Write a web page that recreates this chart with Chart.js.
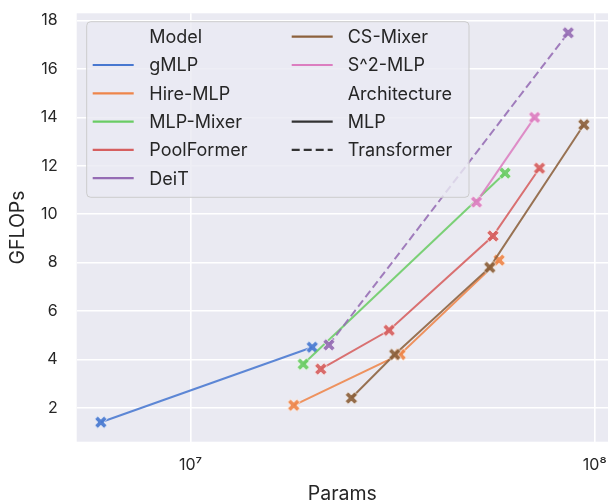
<!DOCTYPE html>
<html>
<head>
<meta charset="utf-8">
<script src="https://cdn.jsdelivr.net/npm/chart.js@4.4.0/dist/chart.umd.min.js"></script>
<style>
  html, body { margin: 0; padding: 0; background: #fff; }
  #wrap { width: 616px; height: 504px; }
</style>
</head>
<body>
<div id="wrap"><canvas id="chart" width="616" height="504"></canvas></div>
<script>
// Values: params (x, log) vs GFLOPs (y)
const models = ['gMLP', 'Hire-MLP', 'MLP-Mixer', 'PoolFormer', 'DeiT', 'CS-Mixer', 'S^2-MLP'];
const modelColors = ['#4878d0', '#ee854a', '#6acc64', '#d65f5f', '#956cb4', '#8c613c', '#dc7ec0'];
const modelArch = ['MLP', 'MLP', 'MLP', 'MLP', 'Transformer', 'MLP', 'MLP'];
const archNames = ['MLP', 'Transformer'];

const gmlpParams = [6e6, 20e6];
const gmlpFlops = [1.4, 4.5];
const hireParams = [18e6, 33e6, 58e6];
const hireFlops = [2.1, 4.2, 8.1];
const mixerParams = [19e6, 60e6];
const mixerFlops = [3.8, 11.7];
const poolParams = [21e6, 31e6, 56e6, 73e6];
const poolFlops = [3.6, 5.2, 9.1, 11.9];
const deitParams = [22e6, 86e6];
const deitFlops = [4.6, 17.5];
const csParams = [25e6, 32e6, 55e6, 94e6];
const csFlops = [2.4, 4.2, 7.8, 13.7];
const s2Params = [51e6, 71e6];
const s2Flops = [10.5, 14.0];

const xTickValues = [1e7, 1e8];
const xTickLabels = ['10\u2077', '10\u2078'];
const yTickValues = [2, 4, 6, 8, 10, 12, 14, 16, 18];

const seriesParams = [gmlpParams, hireParams, mixerParams, poolParams, deitParams, csParams, s2Params];
const seriesFlops = [gmlpFlops, hireFlops, mixerFlops, poolFlops, deitFlops, csFlops, s2Flops];

const FONT = 'Inter, "DejaVu Sans", sans-serif';
const TEXT = '#262626';

// matplotlib-like 5% margins (log for x)
const allX = seriesParams.flat(), allY = seriesFlops.flat();
const lx0 = Math.log10(Math.min(...allX)), lx1 = Math.log10(Math.max(...allX));
const xMin = Math.pow(10, lx0 - 0.05 * (lx1 - lx0));
const xMax = Math.pow(10, lx1 + 0.05 * (lx1 - lx0));
const y0 = Math.min(...allY), y1 = Math.max(...allY);
const yMin = y0 - 0.05 * (y1 - y0);
const yMax = y1 + 0.05 * (y1 - y0);

// filled "X" marker with white edge, like matplotlib's 'X'
function makeMarker(color) {
  const c = document.createElement('canvas');
  c.width = 18; c.height = 18;
  const g = c.getContext('2d');
  const pts = [[-1,-3],[1,-3],[1,-1],[3,-1],[3,1],[1,1],[1,3],[-1,3],[-1,1],[-3,1],[-3,-1],[-1,-1]];
  const s = 2.2, a = Math.PI / 4;
  g.translate(9, 9);
  g.beginPath();
  pts.forEach(([px, py], i) => {
    const x = (px * Math.cos(a) - py * Math.sin(a)) * s;
    const y = (px * Math.sin(a) + py * Math.cos(a)) * s;
    if (i === 0) g.moveTo(x, y); else g.lineTo(x, y);
  });
  g.closePath();
  g.fillStyle = color;
  g.globalAlpha = 0.92;
  g.fill();
  g.globalAlpha = 1;
  g.lineWidth = 0.9;
  g.strokeStyle = 'rgba(255,255,255,0.85)';
  g.stroke();
  return c;
}

const datasets = models.map((name, i) => ({
  label: name,
  data: seriesParams[i].map((p, j) => ({ x: p, y: seriesFlops[i][j] })),
  borderColor: modelColors[i] + 'e0',
  backgroundColor: modelColors[i],
  borderWidth: 2,
  borderDash: modelArch[i] === 'Transformer' ? [8, 4] : [],
  pointStyle: makeMarker(modelColors[i]),
  pointRadius: 6,
  showLine: true,
  tension: 0,
  order: models.length - i
}));

// plot background
const bgPlugin = {
  id: 'plotBg',
  beforeDraw(chart) {
    const { ctx, chartArea: a } = chart;
    ctx.save();
    ctx.fillStyle = '#eaeaf2';
    ctx.fillRect(a.left, a.top, a.right - a.left, a.bottom - a.top);
    ctx.restore();
  }
};

// two-column legend, column-major like matplotlib
const legendPlugin = {
  id: 'seabornLegend',
  afterDraw(chart) {
    const ctx = chart.ctx;
    const entries = [{ text: 'Model' }]
      .concat(models.map((m, i) => ({ text: m, color: modelColors[i], dash: [] })))
      .concat([{ text: 'Architecture' }])
      .concat(archNames.map(a => ({ text: a, color: '#333333', dash: a === 'Transformer' ? [8, 4] : [] })));
    const bx = 86.7, by = 21.7, bw = 382.3, bh = 175.6, r = 4;
    ctx.save();
    ctx.beginPath();
    ctx.roundRect(bx, by, bw, bh, r);
    ctx.fillStyle = 'rgba(234,234,242,0.8)';
    ctx.fill();
    ctx.lineWidth = 1;
    ctx.strokeStyle = '#cccccc';
    ctx.stroke();
    const cols = [{ hx: 92.7, tx: 149.3 }, { hx: 291.7, tx: 347.7 }];
    const perCol = 6, rowY0 = 36.7, rowStep = 28.3;
    ctx.font = '18px ' + FONT;
    ctx.textBaseline = 'middle';
    entries.forEach((e, k) => {
      const col = cols[Math.floor(k / perCol)];
      const y = rowY0 + (k % perCol) * rowStep;
      if (e.color) {
        ctx.beginPath();
        ctx.setLineDash(e.dash);
        ctx.strokeStyle = e.color;
        ctx.lineWidth = 2.2;
        ctx.moveTo(col.hx, y);
        ctx.lineTo(col.hx + 41, y);
        ctx.stroke();
        ctx.setLineDash([]);
      }
      ctx.fillStyle = TEXT;
      ctx.fillText(e.text, col.tx, y + 1);
    });
    ctx.restore();
  }
};

new Chart(document.getElementById('chart'), {
  type: 'line',
  data: { datasets },
  options: {
    responsive: false,
    animation: false,
    parsing: true,
    layout: { padding: { top: 13.3, right: 2, left: 0, bottom: 0 } },
    plugins: { legend: { display: false }, tooltip: { enabled: false } },
    scales: {
      x: {
        type: 'logarithmic',
        min: xMin,
        max: xMax,
        afterBuildTicks: s => { s.ticks = xTickValues.map(v => ({ value: v })); },
        afterFit: s => { s.height = 62.3; s.paddingLeft = 0; s.paddingRight = 0; },
        grid: { color: '#ffffff', lineWidth: 1.6, drawTicks: false },
        border: { display: false },
        ticks: {
          callback: (v, i) => xTickLabels[i],
          color: TEXT,
          font: { size: 16, family: FONT },
          padding: 14,
          maxRotation: 0,
          autoSkip: false
        },
        title: {
          display: true, text: 'Params', color: TEXT,
          font: { size: 19.5, family: FONT, lineHeight: 1 },
          padding: { top: 0, bottom: 0.5 }
        }
      },
      y: {
        type: 'linear',
        min: yMin,
        max: yMax,
        afterBuildTicks: s => { s.ticks = yTickValues.map(v => ({ value: v })); },
        afterFit: s => { s.width = 76.7; s.paddingTop = 0; s.paddingBottom = 0; },
        grid: { color: '#ffffff', lineWidth: 1.6, drawTicks: false },
        border: { display: false },
        ticks: {
          color: TEXT,
          font: { size: 16, family: FONT },
          padding: 19
        },
        title: {
          display: true, text: 'GFLOPs', color: TEXT,
          font: { size: 19.5, family: FONT, lineHeight: 1 },
          padding: { top: 8.5, bottom: 0 }
        }
      }
    }
  },
  plugins: [bgPlugin, legendPlugin]
});
</script>
</body>
</html>
